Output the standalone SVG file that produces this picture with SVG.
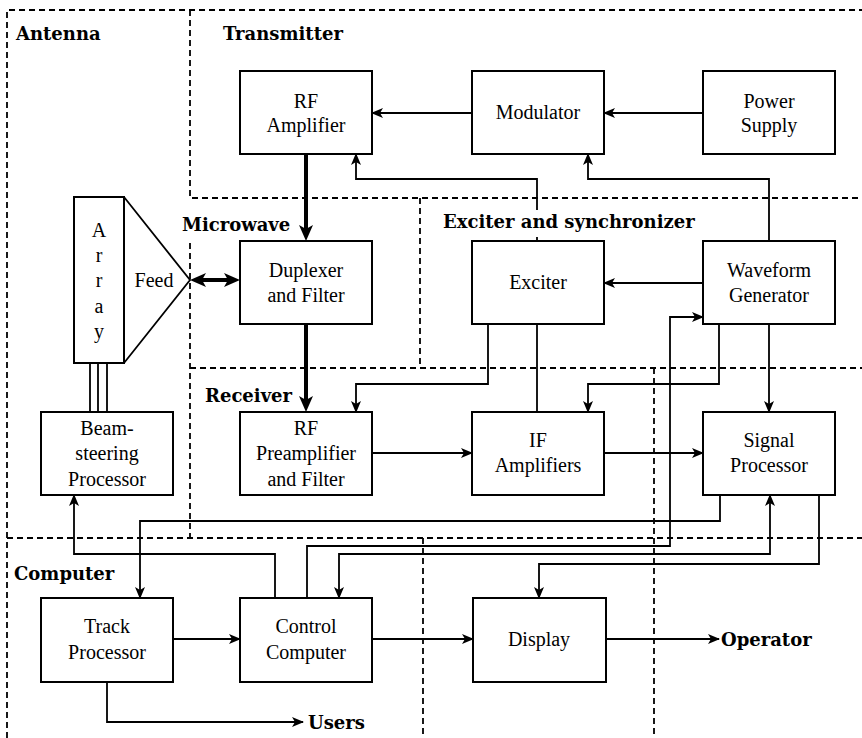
<svg xmlns="http://www.w3.org/2000/svg" width="862" height="738" viewBox="0 0 862 738">
<defs>
<marker id="a" viewBox="0 0 12 10" refX="11" refY="5" markerWidth="12" markerHeight="10" markerUnits="userSpaceOnUse" orient="auto-start-reverse"><path d="M0,0 L12,5 L0,10 L3,5 z" fill="#000"/></marker>
<marker id="ab" viewBox="0 0 16 14" refX="8" refY="7" markerWidth="16" markerHeight="14" markerUnits="userSpaceOnUse" orient="auto-start-reverse"><path d="M0,0 L16,7 L0,14 L4,7 z" fill="#000"/></marker>
</defs>
<style>
.d{fill:none;stroke:#000;stroke-width:1.8;stroke-dasharray:6 4}
.c{fill:none;stroke:#000;stroke-width:1.8}
.k{fill:none;stroke:#000;stroke-width:4}
.n{fill:#fff;stroke:#000;stroke-width:2}
.t{font-family:"Liberation Serif","DejaVu Serif",serif;font-size:20px;text-anchor:middle;fill:#000}
.b{font-family:"DejaVu Serif","Liberation Serif",serif;font-size:18px;font-weight:bold;fill:#000}
</style>
<rect width="862" height="738" fill="#fff"/>
<g id="regions">
<path class="d" d="M7,738 V10 H862"/>
<path class="d" d="M190,10 V198 H862"/>
<path class="d" d="M190,243 V538"/>
<path class="d" d="M420,198 V364"/>
<path class="d" d="M190,368 H862"/>
<path class="d" d="M7,538 H862"/>
<path class="d" d="M654,368 V738"/>
<path class="d" d="M423,538 V738"/>
</g>
<g id="connectors">
<path class="c" d="M472,113 H372" marker-end="url(#a)"/>
<path class="c" d="M703,113 H604" marker-end="url(#a)"/>
<path class="c" d="M537,241 V179 H356 V154" marker-end="url(#a)"/>
<path class="c" d="M769,241 V179 H588 V154" marker-end="url(#a)"/>
<path class="c" d="M703,283 H604" marker-end="url(#a)"/>
<path class="c" d="M488,324 V384 H356 V412" marker-end="url(#a)"/>
<path class="c" d="M537,324 V412"/>
<path class="c" d="M719,324 V384 H588 V412" marker-end="url(#a)"/>
<path class="c" d="M769,324 V412" marker-end="url(#a)"/>
<path class="c" d="M372,453 H472" marker-end="url(#a)"/>
<path class="c" d="M604,453 H703" marker-end="url(#a)"/>
<path class="c" d="M307,598 V546 H670 V317 H703" marker-end="url(#a)"/>
<path class="c" d="M720,495 V521 H140 V598" marker-end="url(#a)"/>
<path class="c" d="M275,598 V554 H74 V495" marker-end="url(#a)"/>
<path class="c" d="M339,598 V554 H770 V495" marker-start="url(#a)" marker-end="url(#a)"/>
<path class="c" d="M819,495 V564 H539 V598" marker-end="url(#a)"/>
<path class="c" d="M173,639 H240" marker-end="url(#a)"/>
<path class="c" d="M372,639 H473" marker-end="url(#a)"/>
<path class="c" d="M606,639 H719" marker-end="url(#a)"/>
<path class="c" d="M107,682 V722 H303" marker-end="url(#a)"/>
<path class="c" d="M90,363 V412 M98,363 V412 M107,363 V412"/>
<path class="k" d="M306,154 V233" marker-end="url(#ab)"/>
<path class="k" d="M306,324 V404" marker-end="url(#ab)"/>
<path class="k" d="M198,280 H232" marker-start="url(#ab)" marker-end="url(#ab)"/>
</g>
<g id="labels">
<text class="b" x="16" y="40">Antenna</text>
<text class="b" x="223" y="40">Transmitter</text>
<rect x="180" y="204" width="113" height="38" fill="#fff"/>
<text class="b" x="182" y="231">Microwave</text>
<rect x="441" y="210" width="262" height="27" fill="#fff"/>
<text class="b" x="443" y="228">Exciter and synchronizer</text>
<text class="b" x="205" y="402">Receiver</text>
<text class="b" x="14" y="580">Computer</text>
<text class="b" x="721" y="646">Operator</text>
<text class="b" x="308" y="729">Users</text>
</g>
<g id="rfamp"><rect class="n" x="240" y="71" width="132" height="83"/><text class="t" x="306" y="108">RF</text><text class="t" x="306" y="132">Amplifier</text></g>
<g id="modulator"><rect class="n" x="472" y="71" width="132" height="83"/><text class="t" x="538" y="119">Modulator</text></g>
<g id="power"><rect class="n" x="703" y="71" width="132" height="83"/><text class="t" x="769" y="108">Power</text><text class="t" x="769" y="132">Supply</text></g>
<g id="duplexer"><rect class="n" x="240" y="241" width="132" height="83"/><text class="t" x="306" y="277">Duplexer</text><text class="t" x="306" y="302">and Filter</text></g>
<g id="exciter"><rect class="n" x="472" y="241" width="132" height="83"/><text class="t" x="538" y="289">Exciter</text></g>
<g id="waveform"><rect class="n" x="703" y="241" width="132" height="83"/><text class="t" x="769" y="277">Waveform</text><text class="t" x="769" y="302">Generator</text></g>
<g id="array"><rect class="n" x="74" y="197" width="50" height="166"/><text class="t" x="99" y="237">A</text><text class="t" x="99" y="262">r</text><text class="t" x="99" y="287">r</text><text class="t" x="99" y="313">a</text><text class="t" x="99" y="338">y</text></g>
<g id="feed"><path d="M124,197 L190,280 L124,363" fill="none" stroke="#000" stroke-width="1.8"/><text class="t" x="154" y="287">Feed</text></g>
<g id="beam"><rect class="n" x="41" y="412" width="132" height="83"/><text class="t" x="107" y="435">Beam-</text><text class="t" x="107" y="460">steering</text><text class="t" x="107" y="486">Processor</text></g>
<g id="rfpre"><rect class="n" x="240" y="412" width="132" height="83"/><text class="t" x="306" y="435">RF</text><text class="t" x="306" y="460">Preamplifier</text><text class="t" x="306" y="486">and Filter</text></g>
<g id="ifamp"><rect class="n" x="472" y="412" width="132" height="83"/><text class="t" x="538" y="447">IF</text><text class="t" x="538" y="472">Amplifiers</text></g>
<g id="sigproc"><rect class="n" x="703" y="412" width="132" height="83"/><text class="t" x="769" y="447">Signal</text><text class="t" x="769" y="472">Processor</text></g>
<g id="track"><rect class="n" x="41" y="598" width="132" height="84"/><text class="t" x="107" y="633">Track</text><text class="t" x="107" y="659">Processor</text></g>
<g id="control"><rect class="n" x="240" y="598" width="132" height="84"/><text class="t" x="306" y="633">Control</text><text class="t" x="306" y="659">Computer</text></g>
<g id="display"><rect class="n" x="473" y="598" width="133" height="84"/><text class="t" x="539" y="646">Display</text></g>
</svg>
